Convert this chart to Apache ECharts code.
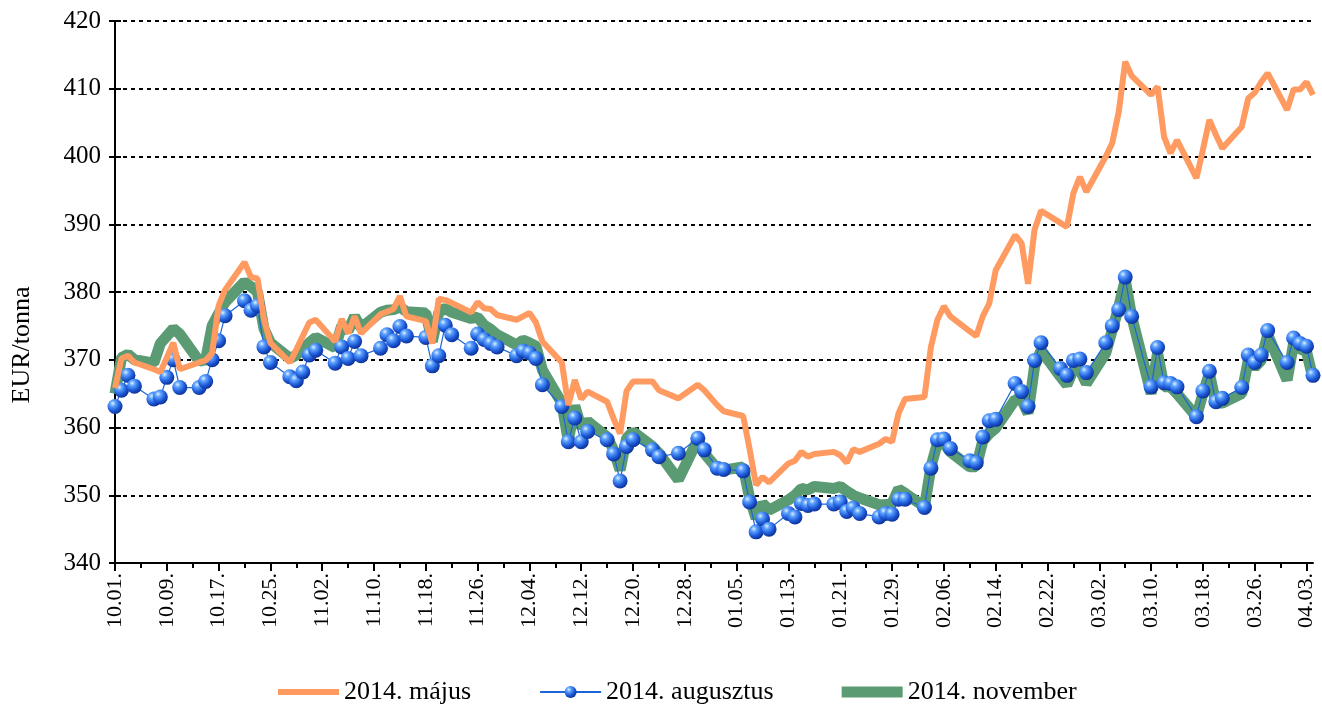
<!DOCTYPE html>
<html>
<head>
<meta charset="utf-8">
<title>EUR/tonna</title>
<script src="https://cdn.jsdelivr.net/npm/echarts@6/dist/echarts.min.js"></script>
<style>
  html, body { margin: 0; padding: 0; background: #fff; }
  #main { width: 1322px; height: 715px; }
</style>
</head>
<body>
<div id="main"></div>
<script>
  // napi jegyzesek (kereskedesi napok)
  const tradingDays = [
    '10.01.', '10.02.', '10.03.', '10.04.', '10.07.', '10.08.', '10.09.', '10.10.', '10.11.',
    '10.14.', '10.15.', '10.16.', '10.17.', '10.18.', '10.21.', '10.22.', '10.23.', '10.24.', '10.25.',
    '10.28.', '10.29.', '10.30.', '10.31.', '11.01.',
    '11.04.', '11.05.', '11.06.', '11.07.', '11.08.', '11.11.', '11.12.', '11.13.', '11.14.', '11.15.',
    '11.18.', '11.19.', '11.20.', '11.21.', '11.22.', '11.25.', '11.26.', '11.27.', '11.28.', '11.29.',
    '12.02.', '12.03.', '12.04.', '12.05.', '12.06.', '12.09.', '12.10.', '12.11.', '12.12.', '12.13.',
    '12.16.', '12.17.', '12.18.', '12.19.', '12.20.', '12.23.', '12.24.', '12.27.', '12.30.', '12.31.',
    '01.02.', '01.03.', '01.06.', '01.07.', '01.08.', '01.09.', '01.10.', '01.13.', '01.14.', '01.15.',
    '01.16.', '01.17.', '01.20.', '01.21.', '01.22.', '01.23.', '01.24.', '01.27.', '01.28.', '01.29.',
    '01.30.', '01.31.',
    '02.03.', '02.04.', '02.05.', '02.06.', '02.07.', '02.10.', '02.11.', '02.12.', '02.13.', '02.14.',
    '02.17.', '02.18.', '02.19.', '02.20.', '02.21.', '02.24.', '02.25.', '02.26.', '02.27.', '02.28.',
    '03.03.', '03.04.', '03.05.', '03.06.', '03.07.', '03.10.', '03.11.', '03.12.', '03.13.', '03.14.',
    '03.17.', '03.18.', '03.19.', '03.20.', '03.21.', '03.24.', '03.25.', '03.26.', '03.27.', '03.28.',
    '03.31.', '04.01.', '04.02.', '04.03.', '04.04.'
  ];

  const majus = [
    365.8, 370.2, 370.6, 369.6, 368.6, 368.2, 370.3, 372.5, 368.6,
    369.6, 369.9, 371.0, 378.0, 380.3, 384.4, 382.2, 382.0, 376.0, 372.5,
    369.6, 371.5, 373.5, 375.5, 375.9,
    372.7, 376.0, 373.9, 376.4, 373.9, 376.7, 377.1, 377.5, 379.4, 376.4,
    375.7, 372.4, 379.0, 378.8, 378.4, 377.0, 378.5, 377.6, 377.5, 376.6,
    375.9, 376.4, 376.9, 375.5, 372.7, 369.6, 363.3, 367.0, 364.2, 365.3,
    363.8, 361.3, 359.1, 365.4, 366.8, 366.8, 365.5, 364.3, 366.3, 365.5,
    363.3, 362.4, 361.7, 356.8, 351.5, 352.7, 351.9, 354.7, 355.1, 356.4,
    355.7, 356.1, 356.4, 355.9, 354.8, 356.8, 356.4, 357.6, 358.3, 357.9,
    362.1, 364.2,
    364.5, 371.9, 375.9, 377.9, 376.4, 374.2, 373.5, 376.4, 378.3, 383.2,
    388.4, 387.2, 381.2, 389.2, 392.0, 390.2, 389.6, 394.6, 397.0, 394.8,
    400.0, 402.0, 406.6, 414.0, 411.9, 409.1, 410.3, 402.9, 400.5, 402.4,
    396.8, 401.0, 405.4, 403.2, 401.2, 404.4, 408.6, 409.4, 411.0, 412.3,
    406.9, 409.9, 409.9, 411.0, 409.1
  ];

  const augusztus = [
    363.1, 365.5, 367.7, 366.1, 364.2, 364.5, 367.4, 370.0, 365.9,
    365.9, 366.8, 370.0, 372.8, 376.5, 378.7, 377.3, 378.0, 371.9, 369.6,
    367.5, 366.9, 368.2, 370.7, 371.4,
    369.5, 371.9, 370.2, 372.7, 370.6, 371.7, 373.7, 372.8, 374.9, 373.5,
    373.3, 369.1, 370.6, 375.1, 373.7, 371.7, 373.8, 373.0, 372.4, 371.9,
    370.6, 371.3, 371.0, 370.2, 366.3, 363.1, 357.9, 361.4, 357.9, 359.4,
    358.2, 356.1, 352.1, 357.2, 358.2, 356.7, 355.7, 356.2, 358.4, 356.7,
    354.0, 353.8, 353.6, 349.0, 344.6, 346.5, 345.0, 347.3, 346.8, 348.8,
    348.5, 348.7, 348.7, 349.0, 347.6, 348.1, 347.3, 346.8, 347.3, 347.2,
    349.4, 349.4,
    348.2, 354.0, 358.2, 358.3, 356.9, 355.1, 354.8, 358.6, 361.0, 361.2,
    366.5, 365.3, 363.1, 369.9, 372.5, 368.7, 367.7, 369.9, 370.1, 368.1,
    372.5, 375.0, 377.4, 382.2, 376.4, 366.0, 371.8, 366.6, 366.5, 366.0,
    361.6, 365.4, 368.3, 363.8, 364.3, 365.9, 370.7, 369.6, 370.7, 374.3,
    369.6, 373.2, 372.4, 372.0, 367.7
  ];

  const november = [
    365.0, 370.3, 370.8, 370.0, 369.5, 372.4, 373.5, 374.6, 373.8,
    369.8, 370.0, 375.0, 376.8, 378.5, 381.5, 380.8, 380.0, 374.6, 372.5,
    370.2, 370.7, 371.5, 372.5, 373.3,
    371.8, 375.0, 374.3, 376.4, 374.7, 377.0, 377.3, 377.4, 377.8, 377.1,
    376.9, 372.7, 377.0, 377.6, 377.0, 376.1, 376.3, 375.1, 374.5, 373.7,
    372.2, 372.9, 372.5, 372.0, 368.5, 363.6, 358.0, 363.2, 360.0, 360.9,
    358.6, 356.7, 353.7, 358.4, 359.4, 357.2, 356.2, 352.3, 358.2, 356.2,
    353.9, 353.7, 354.2, 349.6, 346.6, 348.8, 347.8, 349.3, 350.0, 351.0,
    350.8, 351.3, 351.0, 351.3, 350.6, 350.0, 349.6, 348.6, 348.6, 348.8,
    350.9, 350.3,
    348.3, 354.2, 357.7, 357.7, 356.4, 354.2, 354.2, 358.0, 359.1, 359.9,
    364.1, 364.1, 362.1, 369.0, 371.4, 367.5, 366.3, 368.5, 368.5, 366.5,
    371.0, 374.4, 377.8, 381.8, 376.4, 365.0, 371.0, 366.0, 366.0, 365.0,
    361.6, 365.0, 368.0, 363.6, 363.6, 365.0, 369.9, 368.9, 369.9, 373.7,
    367.0, 372.4, 371.6, 371.2, 367.2
  ];

  const seriesNames = ['2014. május', '2014. augusztus', '2014. november'];

  // naptari napok 10.01.-tol 04.04.-ig, a datumtengely kategoriai
  const calendarDays = [];
  for (let t = Date.UTC(2013, 9, 1); t <= Date.UTC(2014, 3, 4); t += 86400000) {
    const d = new Date(t);
    calendarDays.push(String(d.getUTCMonth() + 1).padStart(2, '0') + '.' + String(d.getUTCDate()).padStart(2, '0') + '.');
  }

  function toPoints(values) {
    return tradingDays.map((day, i) => [calendarDays.indexOf(day), values[i]]);
  }

  const font = 'Liberation Serif, Times New Roman, serif';
  const orange = '#ff9a60';
  const green = '#5a9b74';

  const myChart = echarts.init(document.getElementById('main'));
  myChart.setOption({
    animation: false,
    backgroundColor: '#fff',
    grid: {
      left: 115,
      right: 9,
      top: 21,
      bottom: 152
    },
    legend: {
      bottom: 5,
      left: 273,
      itemWidth: 61,
      itemHeight: 15,
      itemGap: 68,
      textStyle: { fontFamily: font, fontSize: 26, color: '#000' },
      data: [
        { name: seriesNames[0], icon: 'path://M0,0 M61,15 M0,4.5 L61,4.5 L61,10.5 L0,10.5 Z' },
        { name: seriesNames[1] },
        { name: seriesNames[2], icon: 'path://M0,0 M61,15 M0,2 L61,2 L61,13 L0,13 Z' }
      ]
    },
    graphic: [
      {
        type: 'text',
        x: 22,
        y: 345,
        rotation: Math.PI / 2,
        style: {
          text: 'EUR/tonna',
          fontFamily: font,
          fontSize: 26,
          fill: '#000',
          align: 'center',
          verticalAlign: 'middle'
        }
      }
    ],
    xAxis: [
      {
        type: 'category',
        data: calendarDays,
        boundaryGap: false,
        axisLine: { lineStyle: { color: '#000', width: 2 } },
        axisTick: { interval: 7, length: 8, lineStyle: { color: '#000', width: 2 } },
        axisLabel: { interval: 7, rotate: 90, margin: 10, fontFamily: font, fontSize: 22, color: '#000' },
        splitLine: { show: false }
      },
      {
        // kis osztasok 4 naponta
        type: 'category',
        data: calendarDays,
        boundaryGap: false,
        position: 'bottom',
        axisLine: { show: false },
        axisTick: { interval: 3, length: 5, lineStyle: { color: '#000', width: 2 } },
        axisLabel: { show: false },
        splitLine: { show: false }
      }
    ],
    yAxis: [
      {
        type: 'value',
        min: 340,
        max: 420,
        interval: 10,
        axisLine: { show: true, lineStyle: { color: '#000', width: 2 } },
        axisTick: { show: true, length: 6, lineStyle: { color: '#000', width: 2 } },
        axisLabel: { margin: 14, fontFamily: font, fontSize: 25, color: '#000' },
        splitLine: { lineStyle: { color: '#000', width: 2, type: [4, 4] } }
      },
      {
        type: 'value',
        min: 340,
        max: 420,
        interval: 10,
        position: 'left',
        axisLine: { show: false },
        axisTick: { show: true, inside: true, length: 6, lineStyle: { color: '#000', width: 2 } },
        axisLabel: { show: false },
        splitLine: { show: false }
      }
    ],
    series: [
      {
        name: seriesNames[0],
        type: 'line',
        z: 4,
        clip: false,
        data: toPoints(majus),
        symbol: 'none',
        color: orange,
        lineStyle: { color: orange, width: 6 }
      },
      {
        name: seriesNames[1],
        type: 'line',
        z: 3,
        clip: false,
        data: toPoints(augusztus),
        symbol: 'circle',
        symbolSize: 15,
        showAllSymbol: true,
        color: '#1f63d8',
        lineStyle: { color: '#1a66d8', width: 1.2 },
        itemStyle: {
          color: new echarts.graphic.RadialGradient(0.35, 0.3, 0.75, [
            { offset: 0, color: '#dff0ff' },
            { offset: 0.25, color: '#5da2ff' },
            { offset: 0.65, color: '#1c58d6' },
            { offset: 1, color: '#0b2c8c' }
          ])
        }
      },
      {
        name: seriesNames[2],
        type: 'line',
        z: 2,
        clip: false,
        data: toPoints(november),
        symbol: 'none',
        color: green,
        lineStyle: { color: green, width: 11 }
      }
    ]
  });

  window.addEventListener('resize', function () {
    myChart.resize();
  });
</script>
</body>
</html>
